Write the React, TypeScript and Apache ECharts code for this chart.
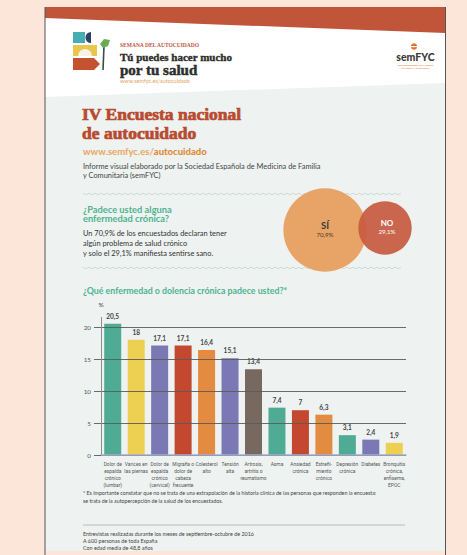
import React, { useEffect, useRef } from "react";
import * as echarts from "echarts";

// ---- data ----
const categories: string[] = [
  "Dolor de\nespalda\ncrónico\n(lumbar)",
  "Varices en\nlas piernas",
  "Dolor de\nespalda\ncrónico\n(cervical)",
  "Migraña o\ndolor de\ncabeza\nfrecuente",
  "Colesterol\nalto",
  "Tensión\nalta",
  "Artrosis,\nartritis o\nreumatismo",
  "Asma",
  "Ansiedad\ncrónica",
  "Estreñi-\nmiento\ncrónico",
  "Depresión\ncrónica",
  "Diabetes",
  "Bronquitis\ncrónica,\nenfisema,\nEPOC",
];
const percents: number[] = [20.5, 18, 17.1, 17.1, 16.4, 15.1, 13.4, 7.4, 7, 6.3, 3.1, 2.4, 1.9];
const yTicks: number[] = [0, 5, 10, 15, 20];
const chronicLabels: string[] = ["SÍ", "NO"];
const chronicValues: number[] = [70.9, 29.1];

// ---- styles ----
const barColors: string[] = [
  "#4fab94", "#edcf52", "#7a79b4", "#c3482f", "#e38b40", "#7a79b6", "#786960",
  "#4fab94", "#c3482f", "#e38b40", "#4fab94", "#7a79b6", "#edcf52",
];

const fmt = (v: number) => String(v).replace(".", ",");
const SANS = "Lato, 'Open Sans', sans-serif";
const NARROW = "'Liberation Sans Narrow', Roboto, sans-serif";
const SERIF = "'Liberation Serif', 'DejaVu Serif', serif";
const TEAL = "#4fb290";
const DARK = "#3a3a3a";

function txt(text: string, x: number, y: number, o: any = {}) {
  return {
    type: "text",
    x,
    y,
    silent: true,
    style: {
      text,
      fill: o.fill || DARK,
      fontSize: o.size || 8,
      fontWeight: o.weight || "normal",
      fontFamily: o.family || SANS,
      align: o.align || "left",
      verticalAlign: "middle",
      lineHeight: o.lh,
      stroke: o.stroke,
      lineWidth: o.stroke ? o.sw || 0.5 : 0,
    },
    z: 10,
  };
}

function wavy(y: number, x0: number, x1: number) {
  const pts: number[][] = [];
  let k = 0;
  for (let x = x0; x <= x1; x += 3, k++) pts.push([x, y + (k % 2 === 0 ? -0.8 : 0.8)]);
  return { type: "polyline", shape: { points: pts }, style: { stroke: "#c9d3d1", lineWidth: 0.8, fill: null }, z: 5 };
}

export default function App() {
  const ref = useRef<HTMLDivElement>(null);
  useEffect(() => {
    if (!ref.current) return;
    const chart = echarts.init(ref.current, undefined, { renderer: "svg" });

    const k = 9.9; // bubble scale (diameter per sqrt(value))
    const rBig = (k * Math.sqrt(chronicValues[0])) / 2;
    const rSmall = (k * Math.sqrt(chronicValues[1])) / 2;

    const graphic: any[] = [
      { type: "rect", shape: { x: 0, y: 0, width: 467, height: 555 }, style: { fill: "#fbe6d9" }, z: 0 },
      txt("Resultados de la IV Encuesta nacional de autocuidado de la semFYC", 240, -5.6, { size: 15, weight: "bold", align: "center", fill: "#555" }),
      // card
      { type: "rect", shape: { x: 45, y: 7, width: 400, height: 544 }, style: { fill: "#eef2f1" }, z: 1 },
      { type: "polygon", shape: { points: [[45, 7], [445, 7], [445, 83], [45, 97]] }, style: { fill: "#ffffff" }, z: 2 },
      { type: "polygon", shape: { points: [[45, 7], [445, 7], [445, 33], [45, 18]] }, style: { fill: "#c1553a" }, z: 3 },
      { type: "line", shape: { x1: 45, y1: 7, x2: 45, y2: 555 }, style: { stroke: "#555", lineWidth: 1 }, z: 4 },
      { type: "line", shape: { x1: 445.5, y1: 7, x2: 445.5, y2: 555 }, style: { stroke: "#555", lineWidth: 1 }, z: 4 },
      { type: "rect", shape: { x: 44, y: 551, width: 402, height: 4 }, style: { fill: "#fbe6d9" }, z: 3 },
      // logo
      { type: "rect", shape: { x: 73, y: 32, width: 12, height: 11 }, style: { fill: "#45aeb5" }, z: 5 },
      { type: "sector", shape: { cx: 91, cy: 37.5, r: 5.5, startAngle: Math.PI / 2, endAngle: (3 * Math.PI) / 2 }, style: { fill: "#2e3f6c" }, z: 5 },
      { type: "rect", shape: { x: 73, y: 45, width: 24, height: 11 }, style: { fill: "#e8c84c" }, z: 5 },
      { type: "sector", shape: { cx: 85, cy: 56, r: 7, startAngle: Math.PI, endAngle: 2 * Math.PI }, style: { fill: "#f7f2e4" }, z: 6 },
      { type: "rect", shape: { x: 73, y: 58, width: 21, height: 12 }, style: { fill: "#c4512f" }, z: 5 },
      { type: "polygon", shape: { points: [[94, 58], [100, 64], [94, 70]] }, style: { fill: "#c4512f" }, z: 5 },
      { type: "line", shape: { x1: 104, y1: 46, x2: 103, y2: 70 }, style: { stroke: "#3b4a3c", lineWidth: 1.6 }, z: 5 },
      { type: "polygon", shape: { points: [[100, 44], [104, 39], [110, 40], [108, 46], [103, 48]] }, style: { fill: "#6aab54" }, z: 6 },
      txt("SEMANA DEL AUTOCUIDADO", 120, 45, { size: 5.5, weight: "bold", family: SERIF, fill: "#c1553a" }),
      txt("Tú puedes hacer mucho", 120, 56.5, { size: 11, weight: "bold", family: SERIF, fill: "#2d2d2d", stroke: "#2d2d2d", sw: 0.35 }),
      txt("por tu salud", 120, 70, { size: 15, weight: "bold", family: SERIF, fill: "#2d2d2d", stroke: "#2d2d2d", sw: 0.5 }),
      txt("www.semfyc.es/autocuidado", 120, 80.5, { size: 5.5, fill: "#e2a463" }),
      // semFYC logo
      { type: "circle", shape: { cx: 414, cy: 46.5, r: 3.3 }, style: { fill: "#e2722f" }, z: 5 },
      { type: "rect", shape: { x: 410, y: 46, width: 8, height: 1.2 }, style: { fill: "#fff" }, z: 6 },
      txt("semFYC", 415.5, 57, { size: 10.5, weight: "900", align: "center", fill: "#3a3a3a" }),
      txt("Sociedad Española de Medicina\nde Familia y Comunitaria", 415.5, 66, { size: 2.6, align: "center", fill: "#e2722f", lh: 3 }),
      // title block
      txt("IV Encuesta nacional", 82, 114, { size: 17.5, weight: "bold", family: SERIF, fill: "#b84a2f", stroke: "#b84a2f", sw: 0.7 }),
      txt("de autocuidado", 82, 132.5, { size: 17.5, weight: "bold", family: SERIF, fill: "#b84a2f", stroke: "#b84a2f", sw: 0.7 }),
      {
        type: "text", x: 83, y: 151, z: 10,
        style: {
          text: "{a|www.semfyc.es/}{b|autocuidado}",
          verticalAlign: "middle",
          rich: {
            a: { fontSize: 9.5, fontFamily: SANS, fill: "#e7a762", fontWeight: "bold" },
            b: { fontSize: 9.5, fontFamily: SANS, fill: "#e08a3c", fontWeight: "900" },
          },
        },
      },
      txt("Informe visual elaborado por la Sociedad Española de Medicina de Familia", 83, 166, { size: 7.4, fill: "#444" }),
      txt("y Comunitaria (semFYC)", 83, 175.5, { size: 7.4, fill: "#444" }),
      wavy(194, 83, 403),
      wavy(268, 83, 403),
      txt("¿Padece usted alguna", 83, 209, { size: 9.3, weight: "bold", fill: TEAL }),
      txt("enfermedad crónica?", 83, 218.5, { size: 9.3, weight: "bold", fill: TEAL }),
      txt("Un 70,9% de los encuestados declaran tener", 83, 233, { size: 7.4, fill: "#333" }),
      txt("algún problema de salud crónico", 83, 243, { size: 7.4, fill: "#333" }),
      txt("y solo el 29,1% manifiesta sentirse sano.", 83, 253.5, { size: 7.4, fill: "#333" }),
      // bubbles (radius from values)
      { type: "circle", shape: { cx: 325, cy: 230, r: rBig }, style: { fill: "#e8a366" }, z: 5 },
      { type: "circle", shape: { cx: 385, cy: 228, r: rSmall }, style: { fill: "#c85a40", opacity: 0.92 }, z: 6 },
      txt(chronicLabels[0], 325, 225, { size: 9.5, weight: "bold", align: "center", fill: "#3a3a3a" }),
      txt(fmt(chronicValues[0]) + "%", 325, 234.5, { size: 6.2, align: "center", fill: "#4a3a2a" }),
      txt(chronicLabels[1], 387, 222.5, { size: 8, weight: "bold", align: "center", fill: "#ffffff" }),
      txt(fmt(chronicValues[1]) + "%", 387, 231.5, { size: 6.2, align: "center", fill: "#ffffff" }),
      // chart heading
      txt("¿Qué enfermedad o dolencia crónica padece usted?*", 83, 290, { size: 8.8, weight: "bold", fill: TEAL }),
      // footnote
      txt("* Es importante constatar que no se trata de una extrapolación de la historia clínica de las personas que responden la encuesta:", 83, 493, { size: 5.3, fill: "#444" }),
      txt("se trata de la autopercepción de la salud de los encuestados.", 83, 500.5, { size: 5.3, fill: "#444" }),
      { type: "line", shape: { x1: 83, y1: 525, x2: 405, y2: 525 }, style: { stroke: "#b8bebd", lineWidth: 1 }, z: 5 },
      txt("Entrevistas realizadas durante los meses de septiembre-octubre de 2016", 83, 534, { size: 5.4, fill: "#444" }),
      txt("A 600 personas de toda España", 83, 540.8, { size: 5.4, fill: "#444" }),
      txt("Con edad media de 48,8 años", 83, 547.5, { size: 5.4, fill: "#444" }),
    ];

    chart.setOption({
      animation: false,
      graphic,
      grid: { left: 101, right: 61, top: 317.4, bottom: 100, containLabel: false },
      xAxis: {
        type: "category",
        data: categories,
        z: 20,
        axisLine: { show: true, lineStyle: { color: "#a4afd0", width: 1.5 } },
        axisTick: { show: false },
        axisLabel: {
          interval: 0,
          fontSize: 4.9,
          lineHeight: 7.2,
          color: "#555",
          fontFamily: NARROW,
          margin: 5,
          verticalAlign: "top",
        },
      },
      yAxis: {
        type: "value",
        min: 0,
        max: 21.5,
        interval: 5,
        name: "%",
        nameLocation: "end",
        nameGap: 9,
        nameTextStyle: { fontSize: 6.5, color: "#444", fontFamily: SANS, align: "center" },
        z: 20,
        axisLine: { show: true, lineStyle: { color: "#8a8f8e", width: 1 } },
        axisTick: { show: true, length: 7, customValues: yTicks, lineStyle: { color: "#5a5a5a", width: 0.9 } },
        splitLine: { show: true, customValues: yTicks, lineStyle: { color: "#5a5a5a", width: 0.9 } },
        axisLabel: { customValues: yTicks, fontSize: 6.3, color: "#555", fontFamily: SANS, margin: 10 },
      },
      series: [
        {
          type: "bar",
          z: 10,
          data: percents.map((v, i) => ({ value: v, itemStyle: { color: barColors[i] } })),
          barWidth: 17,
          label: {
            show: true,
            position: "top",
            distance: 4,
            fontSize: 6.5,
            fontWeight: "bold",
            color: "#444",
            fontFamily: SANS,
            formatter: (p: any) => fmt(p.value),
          },
        },
      ],
    });
    return () => chart.dispose();
  }, []);
  return <div ref={ref} style={{ position: "absolute", left: 0, top: 0, width: 467, height: 555 }} />;
}
